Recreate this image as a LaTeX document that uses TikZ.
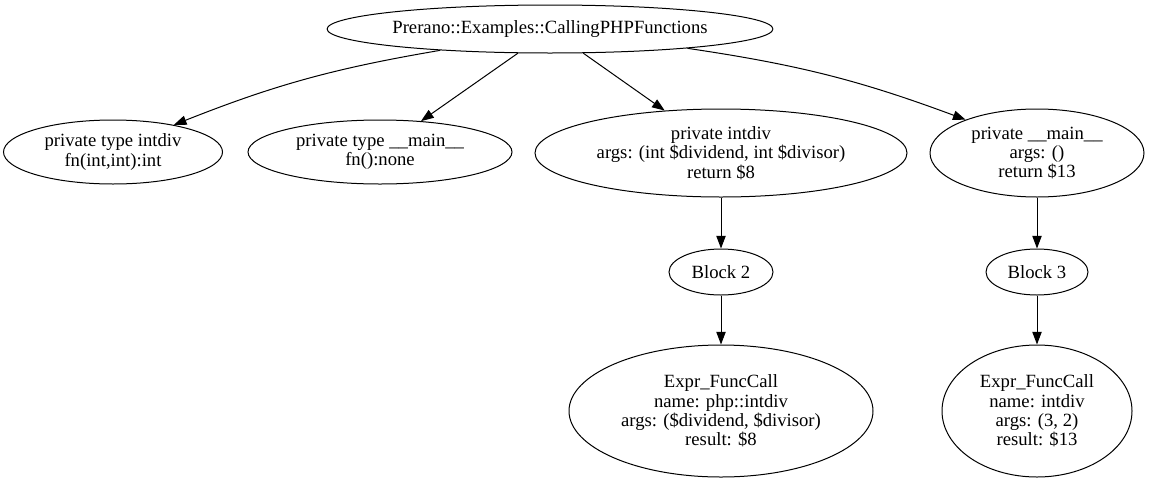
\documentclass[tikz,border=0pt]{standalone}
\usepackage{fontspec}
\setmainfont{Liberation Serif}
\usetikzlibrary{arrows.meta, shapes.geometric}
\tikzset{
    gvnode/.style={
        ellipse, draw=black, line width=0.75pt, inner sep=0pt,
        align=center, font=\fontsize{14}{14.6}\selectfont
    },
    arr/.style={
        -{Triangle[length=9.5pt, width=7pt]}, line width=0.75pt
    }
}

\begin{document}
\begin{tikzpicture}[x=0.75pt, y=-0.75pt]
    \useasboundingbox[fill=white] (0,0) rectangle (1149,479);

    % Nodes
    \node[gvnode, minimum width=322.5pt, minimum height=36pt] (root) at (550,29) {Prerano::Examples::CallingPHPFunctions};
    \node[gvnode, minimum width=164.25pt, minimum height=48pt] (tyintdiv) at (113,152) {private type intdiv\\fn(int,int):int};
    \node[gvnode, minimum width=198pt, minimum height=48pt] (tymain) at (380,152) {private type \_\_main\_\_\\fn():none};
    \node[gvnode, minimum width=279pt, minimum height=66pt] (fnintdiv) at (721,153) {private intdiv\\args: (int \$dividend, int \$divisor)\\return \$8};
    \node[gvnode, minimum width=160.5pt, minimum height=66pt] (fnmain) at (1037,153) {private \_\_main\_\_\\args: ()\\return \$13};
    \node[gvnode, minimum width=78pt, minimum height=34.5pt] (block2) at (721,272) {Block 2};
    \node[gvnode, minimum width=76.5pt, minimum height=34.5pt] (block3) at (1037,272) {Block 3};
    \node[gvnode, minimum width=228pt, minimum height=99pt] (call2) at (721,411) {Expr\_FuncCall\\name: php::intdiv\\args: (\$dividend, \$divisor)\\result: \$8};
    \node[gvnode, minimum width=142.5pt, minimum height=99pt] (call3) at (1037,411) {Expr\_FuncCall\\name: intdiv\\args: (3, 2)\\result: \$13};

    % Edges
    \draw[arr] (root.191) to[bend right=6] (tyintdiv.24);
    \draw[arr] (root.217) -- (tymain.37);
    \draw[arr] (root.324) -- (fnintdiv.143);
    \draw[arr] (root.352) to[bend left=6] (fnmain.155);
    \draw[arr] (fnintdiv) -- (block2);
    \draw[arr] (block2) -- (call2);
    \draw[arr] (fnmain) -- (block3);
    \draw[arr] (block3) -- (call3);

\end{tikzpicture}
\end{document}
